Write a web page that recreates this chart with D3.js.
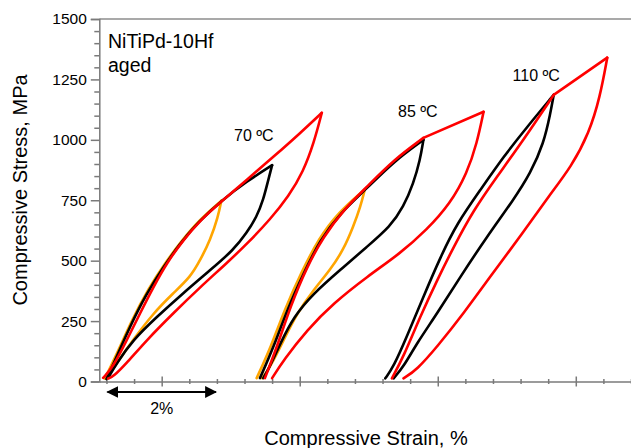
<!DOCTYPE html>
<html>
<head>
<meta charset="utf-8">
<script src="https://cdn.jsdelivr.net/npm/d3@7/dist/d3.min.js"></script>
<style>
    body { margin: 0; background: #fff; }
    text { font-family: "Liberation Sans", Arial, sans-serif; fill: #000; }
</style>
</head>
<body>
<div class="chartRoot"></div>
<script>
(function () {
    'use strict';

    // strain (%), stress (MPa)
    var red70Load = [[-0.06, 15], [0.12, 60], [0.37, 172], [0.61, 283], [0.85, 391], [1.09, 490], [1.39, 585], [1.70, 668], [2.11, 751], [2.54, 834], [3.02, 929], [3.51, 1028], [3.90, 1112]];
    var red70Unload = [[3.90, 1112], [3.76, 990], [3.56, 866], [3.30, 767], [2.97, 672], [2.56, 573], [2.18, 490], [1.70, 391], [1.21, 283], [0.73, 172], [0.37, 77], [0.12, 19], [0.03, 12]];
    var black70Load = [[0.0, 10], [0.2, 110], [0.42, 225], [0.72, 362], [1.02, 470], [1.33, 570], [1.66, 660], [2.1, 752], [2.54, 828], [3.0, 895]];
    var black70Unload = [[3.0, 895], [2.93, 834], [2.84, 751], [2.72, 681], [2.54, 615], [2.30, 544], [1.88, 461], [1.39, 366], [0.91, 267], [0.48, 172], [0.19, 77], [0.03, 15]];
    var orange70Load = [[-0.03, 12], [0.22, 130], [0.45, 250], [0.76, 385], [1.06, 490], [1.37, 585], [1.68, 668], [2.08, 748]];
    var orange70Unload = [[2.08, 748], [2.02, 681], [1.88, 586], [1.70, 503], [1.52, 432], [1.21, 366], [0.85, 283], [0.48, 172], [0.19, 77], [0.01, 15]];

    var red85Load = [[2.87, 14], [3.09, 144], [3.33, 310], [3.63, 475], [3.93, 599], [4.29, 710], [4.72, 806], [5.20, 917], [5.74, 1008]];
    var red85Harden = [[5.74, 1008], [6.83, 1116]];
    var red85Unload = [[6.83, 1116], [6.71, 986], [6.53, 862], [6.23, 737], [5.80, 627], [5.32, 530], [4.72, 434], [4.11, 324], [3.63, 213], [3.21, 89], [3.00, 14]];
    var black85Load = [[2.78, 14], [3.03, 144], [3.27, 296], [3.57, 448], [3.87, 586], [4.23, 696], [4.72, 800], [5.20, 910], [5.74, 1000]];
    var black85Unload = [[5.74, 1000], [5.68, 917], [5.56, 820], [5.38, 723], [5.14, 641], [4.72, 558], [4.23, 461], [3.75, 365], [3.39, 268], [3.15, 158], [2.93, 48], [2.84, 14]];
    var orange85Load = [[2.72, 14], [2.98, 144], [3.23, 300], [3.53, 452], [3.84, 590], [4.2, 700], [4.68, 795]];
    var orange85Unload = [[4.68, 795], [4.60, 723], [4.47, 641], [4.29, 544], [4.05, 461], [3.75, 379], [3.45, 282], [3.21, 172], [2.97, 61], [2.82, 14]];

    var black110Load = [[5.05, 13], [5.20, 61], [5.44, 185], [5.74, 351], [6.05, 516], [6.35, 655], [6.77, 792], [7.19, 930], [7.62, 1054], [8.10, 1186]];
    var black110Unload = [[8.10, 1186], [8.04, 1110], [7.92, 986], [7.68, 862], [7.37, 751], [6.89, 599], [6.41, 434], [5.99, 282], [5.62, 158], [5.38, 61], [5.20, 13]];
    var red110Load = [[5.17, 13], [5.38, 103], [5.68, 268], [5.99, 420], [6.29, 558], [6.65, 710], [7.07, 847], [7.55, 999], [8.10, 1186]];
    var red110Harden = [[8.10, 1186], [9.07, 1340]];
    var red110Unload = [[9.07, 1340], [8.94, 1178], [8.74, 1027], [8.42, 889], [8.02, 770], [7.49, 599], [6.95, 434], [6.47, 282], [5.99, 144], [5.62, 48], [5.38, 13]];

    var yTicks = [0, 250, 500, 750, 1000, 1250, 1500];
    var xMajorTicks = [1, 3.5, 6, 8.5];
    var tempLabels = ["70 ºC", "85 ºC", "110 ºC"];
    var tempLabelAt = [[2.31, 996], [5.28, 1093], [7.355, 1245]];

    var curves = [
        { pts: orange70Load, c: "#ffa500" }, { pts: orange70Unload, c: "#ffa500" },
        { pts: orange85Load, c: "#ffa500" }, { pts: orange85Unload, c: "#ffa500" },
        { pts: black70Load, c: "#000" }, { pts: black70Unload, c: "#000" },
        { pts: black85Load, c: "#000" }, { pts: black85Unload, c: "#000" },
        { pts: black110Load, c: "#000" }, { pts: black110Unload, c: "#000" },
        { pts: red70Load, c: "#ff0000" }, { pts: red70Unload, c: "#ff0000" },
        { pts: red85Load, c: "#ff0000" }, { pts: red85Harden, c: "#ff0000" }, { pts: red85Unload, c: "#ff0000" },
        { pts: red110Load, c: "#ff0000" }, { pts: red110Harden, c: "#ff0000" }, { pts: red110Unload, c: "#ff0000" }
    ];

    var w = 631,
        h = 448;

    var x = d3.scaleLinear().domain([-0.13, 9.5]).range([99.3, 631]);
    var y = d3.scaleLinear().domain([0, 1500]).range([381.5, 19]);

    var svg = d3.select("div.chartRoot").append("svg")
        .attr("width", w)
        .attr("height", h);

    // top frame line
    svg.append("line")
        .attr("x1", x.range()[0]).attr("x2", w)
        .attr("y1", y(1500)).attr("y2", y(1500))
        .style("stroke", "#8c8c8c")
        .style("stroke-width", "1.5px");

    // y axis
    var yMinor = d3.range(0, 1501, 50).filter(function (v) { return v % 250 !== 0; });
    svg.append("g")
        .attr("transform", "translate(" + x.range()[0] + ",0)")
        .call(d3.axisLeft(y).tickValues(yMinor).tickSize(5).tickFormat(""))
        .call(function (g) { g.select(".domain").remove(); });
    var yAxis = svg.append("g")
        .attr("transform", "translate(" + x.range()[0] + ",0)")
        .call(d3.axisLeft(y).tickValues(yTicks).tickSize(8.5).tickPadding(4).tickFormat(d3.format("d")));
    yAxis.selectAll("text").style("font-size", "15.5px");

    // x axis, ticks crossing the line
    var xMinor = d3.range(0, 9.51, 0.5).filter(function (v) { return xMajorTicks.indexOf(v) < 0; });
    svg.append("g")
        .attr("transform", "translate(0," + y(0) + ")")
        .call(d3.axisBottom(x).tickValues(xMinor).tickSize(2.5).tickFormat(""))
        .call(function (g) {
            g.select(".domain").remove();
            g.selectAll(".tick line").attr("y1", -2.5);
        });
    svg.append("g")
        .attr("transform", "translate(0," + y(0) + ")")
        .call(d3.axisBottom(x).tickValues(xMajorTicks).tickSize(5).tickSizeOuter(0).tickFormat(""))
        .call(function (g) { g.selectAll(".tick line").attr("y1", -5); });

    svg.selectAll(".domain, .tick line")
        .style("stroke", "#7a7a7a")
        .style("stroke-width", "1.5px");

    // curves
    var line = d3.line()
        .x(function (d) { return x(d[0]); })
        .y(function (d) { return y(d[1]); })
        .curve(d3.curveBasis);

    svg.selectAll("path.curve")
        .data(curves)
        .enter().append("path")
        .attr("class", "curve")
        .attr("d", function (d) { return line(d.pts); })
        .style("fill", "none")
        .style("stroke", function (d) { return d.c; })
        .style("stroke-width", "2.6px")
        .style("stroke-linejoin", "round")
        .style("stroke-linecap", "round");

    // labels
    svg.append("text").attr("x", 108).attr("y", 48).style("font-size", "19.5px").text("NiTiPd-10Hf");
    svg.append("text").attr("x", 108).attr("y", 72).style("font-size", "19.5px").text("aged");

    svg.selectAll("text.temp")
        .data(tempLabels)
        .enter().append("text")
        .attr("class", "temp")
        .attr("x", function (d, i) { return x(tempLabelAt[i][0]); })
        .attr("y", function (d, i) { return y(tempLabelAt[i][1]); })
        .style("font-size", "16px")
        .text(function (d) { return d; });

    // 2% scale bar
    var defs = svg.append("defs");
    defs.append("marker")
        .attr("id", "arr")
        .attr("viewBox", "0 0 10 10")
        .attr("refX", 9).attr("refY", 5)
        .attr("markerWidth", 6).attr("markerHeight", 6)
        .attr("orient", "auto-start-reverse")
        .append("path")
        .attr("d", "M0,0L10,5L0,10z")
        .style("fill", "#000");

    svg.append("line")
        .attr("x1", x(0) + 1).attr("x2", x(2) - 1)
        .attr("y1", 392).attr("y2", 392)
        .style("stroke", "#000")
        .style("stroke-width", "2px")
        .attr("marker-start", "url(#arr)")
        .attr("marker-end", "url(#arr)");
    svg.append("text")
        .attr("x", x(1)).attr("y", 414)
        .attr("text-anchor", "middle")
        .style("font-size", "16px")
        .text("2%");

    // axis titles
    svg.append("text")
        .attr("x", 366).attr("y", 445)
        .attr("text-anchor", "middle")
        .style("font-size", "20px")
        .text("Compressive Strain, %");
    svg.append("text")
        .attr("transform", "translate(27,190) rotate(-90)")
        .attr("text-anchor", "middle")
        .style("font-size", "20px")
        .text("Compressive Stress, MPa");
})();
</script>
</body>
</html>
